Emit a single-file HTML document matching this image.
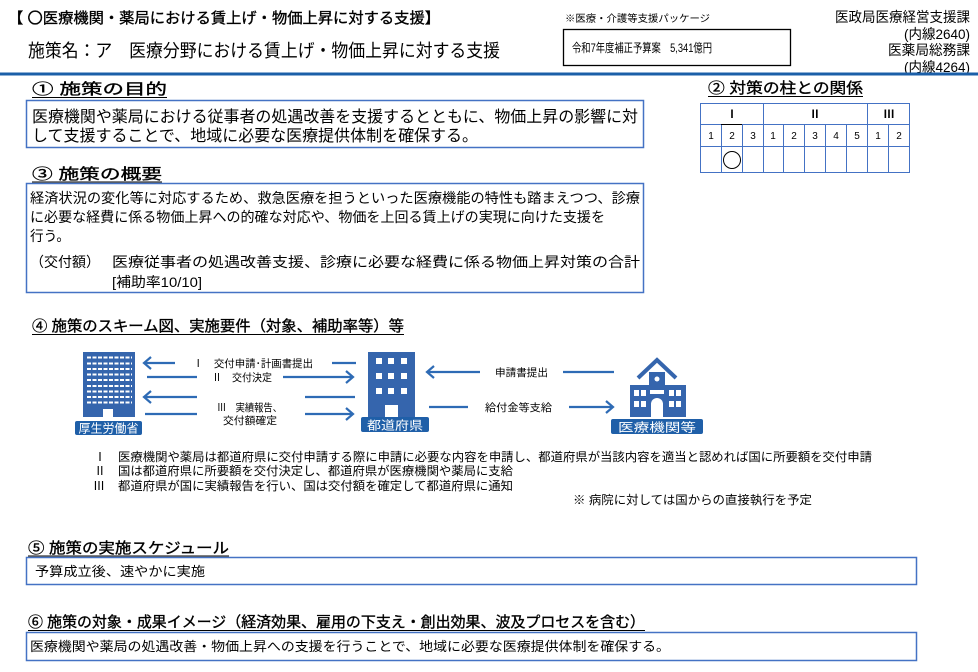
<!DOCTYPE html>
<html><head><meta charset="utf-8"><style>
html,body{margin:0;padding:0;background:#fff;width:978px;height:672px;overflow:hidden}
svg{display:block}
text{font-family:"Liberation Sans","Noto Sans CJK JP",sans-serif;fill:#000}
.h{stroke:#000;stroke-width:0.35}
</style></head><body>
<svg width="978" height="672" viewBox="0 0 978 672" xmlns="http://www.w3.org/2000/svg">
<!-- header -->
<text x="8" y="23" font-size="15" class="h" textLength="432" lengthAdjust="spacingAndGlyphs">【 〇医療機関・薬局における賃上げ・物価上昇に対する支援】</text>
<text x="565" y="22" font-size="10" textLength="145" lengthAdjust="spacingAndGlyphs">※医療・介護等支援パッケージ</text>
<rect x="563.5" y="29.5" width="227" height="36" fill="none" stroke="#000" stroke-width="1.3"/>
<text x="572" y="52" font-size="12" textLength="140" lengthAdjust="spacingAndGlyphs">令和7年度補正予算案　5,341億円</text>
<text x="970" y="22" font-size="14" text-anchor="end" textLength="135" lengthAdjust="spacingAndGlyphs">医政局医療経営支援課</text>
<text x="970" y="39" font-size="14" text-anchor="end" textLength="66" lengthAdjust="spacingAndGlyphs">(内線2640)</text>
<text x="970" y="55" font-size="14" text-anchor="end" textLength="82" lengthAdjust="spacingAndGlyphs">医薬局総務課</text>
<text x="970" y="72" font-size="14" text-anchor="end" textLength="66" lengthAdjust="spacingAndGlyphs">(内線4264)</text>
<text x="28" y="57" font-size="18" textLength="472" lengthAdjust="spacingAndGlyphs">施策名：ア　医療分野における賃上げ・物価上昇に対する支援</text>
<rect x="0" y="72.5" width="978" height="3" fill="#1b5fa8"/>

<!-- ① -->
<text x="32" y="94" font-size="15" class="h" textLength="135" lengthAdjust="spacingAndGlyphs">① 施策の目的</text>
<line x1="32" y1="97.5" x2="167" y2="97.5" stroke="#000" stroke-width="1"/>
<rect x="26.5" y="100.5" width="617" height="47" fill="none" stroke="#4472c4" stroke-width="1.5"/>
<text x="32" y="122" font-size="16" textLength="606" lengthAdjust="spacingAndGlyphs">医療機関や薬局における従事者の処遇改善を支援するとともに、物価上昇の影響に対</text>
<text x="32" y="141" font-size="16" textLength="446" lengthAdjust="spacingAndGlyphs">して支援することで、地域に必要な医療提供体制を確保する。</text>

<!-- ② -->
<text x="708" y="93" font-size="15" class="h" textLength="155" lengthAdjust="spacingAndGlyphs">② 対策の柱との関係</text>
<line x1="708" y1="96.5" x2="863" y2="96.5" stroke="#000" stroke-width="1"/>
<g stroke="#4472c4" stroke-width="1" fill="none">
<rect x="700.5" y="103.5" width="209" height="69"/>
<line x1="700" y1="124.5" x2="910" y2="124.5"/>
<line x1="700" y1="146.5" x2="910" y2="146.5"/>
<line x1="763.5" y1="103" x2="763.5" y2="173"/>
<line x1="867.5" y1="103" x2="867.5" y2="173"/>
<line x1="721.5" y1="124" x2="721.5" y2="173"/>
<line x1="742.5" y1="124" x2="742.5" y2="173"/>
<line x1="783.5" y1="124" x2="783.5" y2="173"/>
<line x1="804.5" y1="124" x2="804.5" y2="173"/>
<line x1="825.5" y1="124" x2="825.5" y2="173"/>
<line x1="846.5" y1="124" x2="846.5" y2="173"/>
<line x1="888.5" y1="124" x2="888.5" y2="173"/>
</g>
<line x1="721" y1="124.5" x2="742" y2="124.5" stroke="#000" stroke-width="1"/>
<g font-size="11" text-anchor="middle">
<text x="732" y="118" font-family="Liberation Serif,serif" font-weight="bold">Ⅰ</text>
<text x="815" y="118" font-family="Liberation Serif,serif" font-weight="bold">Ⅱ</text>
<text x="889" y="118" font-family="Liberation Serif,serif" font-weight="bold">Ⅲ</text>
</g>
<g font-size="10" text-anchor="middle">
<text x="711" y="139">1</text><text x="732" y="139">2</text><text x="753" y="139">3</text>
<text x="773" y="139">1</text><text x="794" y="139">2</text><text x="815" y="139">3</text><text x="836" y="139">4</text><text x="857" y="139">5</text>
<text x="878" y="139">1</text><text x="899" y="139">2</text>
</g>
<circle cx="732" cy="160" r="8.5" fill="none" stroke="#000" stroke-width="1"/>

<!-- ③ -->
<text x="32" y="179" font-size="15" class="h" textLength="130" lengthAdjust="spacingAndGlyphs">③ 施策の概要</text>
<line x1="32" y1="182" x2="162" y2="182" stroke="#000" stroke-width="1"/>
<rect x="26.5" y="183.5" width="617" height="109" fill="none" stroke="#4472c4" stroke-width="1.5"/>
<text x="30" y="203" font-size="14" textLength="610" lengthAdjust="spacingAndGlyphs">経済状況の変化等に対応するため、救急医療を担うといった医療機能の特性も踏まえつつ、診療</text>
<text x="30" y="222" font-size="14" textLength="575" lengthAdjust="spacingAndGlyphs">に必要な経費に係る物価上昇への的確な対応や、物価を上回る賃上げの実現に向けた支援を</text>
<text x="30" y="241" font-size="14" textLength="40" lengthAdjust="spacingAndGlyphs">行う。</text>
<text x="30" y="267" font-size="14" textLength="70" lengthAdjust="spacingAndGlyphs">（交付額）</text>
<text x="112" y="267" font-size="14" textLength="528" lengthAdjust="spacingAndGlyphs">医療従事者の処遇改善支援、診療に必要な経費に係る物価上昇対策の合計</text>
<text x="112" y="287" font-size="14" textLength="90" lengthAdjust="spacingAndGlyphs">[補助率10/10]</text>

<!-- ④ -->
<text x="32" y="331" font-size="15" class="h" textLength="372" lengthAdjust="spacingAndGlyphs">④ 施策のスキーム図、実施要件（対象、補助率等）等</text>
<line x1="32" y1="334.5" x2="404" y2="334.5" stroke="#000" stroke-width="1"/>

<!-- building 1 -->
<rect x="83" y="352" width="52" height="65" fill="#3565ad"/>
<g stroke="#fff" stroke-width="2" stroke-dasharray="4 1.5">
<line x1="87" y1="357.5" x2="132" y2="357.5"/><line x1="87" y1="363.5" x2="132" y2="363.5"/>
<line x1="87" y1="369" x2="132" y2="369"/><line x1="87" y1="374.5" x2="132" y2="374.5"/>
<line x1="87" y1="380" x2="132" y2="380"/><line x1="87" y1="386" x2="132" y2="386"/>
<line x1="87" y1="391.5" x2="132" y2="391.5"/><line x1="87" y1="397" x2="132" y2="397"/>
<line x1="87" y1="402.5" x2="132" y2="402.5"/>
</g>
<rect x="103" y="409" width="10" height="8" fill="#fff"/>
<rect x="75" y="421" width="67" height="14" rx="2" fill="#1f5fa8"/>
<text x="108.5" y="432.5" font-size="12" text-anchor="middle" style="fill:#fff" textLength="60" lengthAdjust="spacingAndGlyphs">厚生労働省</text>

<!-- building 2 -->
<rect x="368" y="352" width="47" height="65" fill="#3565ad"/>
<g fill="#fff">
<rect x="376" y="358" width="6" height="6"/><rect x="388" y="358" width="6" height="6"/><rect x="401" y="358" width="6" height="6"/>
<rect x="376" y="373" width="6" height="6"/><rect x="388" y="373" width="6" height="6"/><rect x="401" y="373" width="6" height="6"/>
<rect x="376" y="388" width="6" height="6"/><rect x="388" y="388" width="6" height="6"/><rect x="401" y="388" width="6" height="6"/>
<rect x="385" y="405" width="13" height="12"/>
</g>
<rect x="361" y="417" width="68" height="15" rx="2" fill="#1f5fa8"/>
<text x="395" y="429.5" font-size="12" text-anchor="middle" style="fill:#fff" textLength="56" lengthAdjust="spacingAndGlyphs">都道府県</text>

<!-- hospital -->
<polyline points="638,378 657,360 676,378" fill="none" stroke="#3565ad" stroke-width="4"/>
<rect x="649" y="372" width="16" height="14" fill="#3565ad"/>
<rect x="630" y="385" width="56" height="32" fill="#3565ad"/>
<g fill="#fff">
<circle cx="657" cy="379" r="2.5"/>
<rect x="634" y="390" width="5" height="6"/><rect x="641" y="390" width="5" height="6"/>
<rect x="669" y="390" width="5" height="6"/><rect x="676" y="390" width="5" height="6"/>
<rect x="634" y="401" width="5" height="6"/><rect x="641" y="401" width="5" height="6"/>
<rect x="669" y="401" width="5" height="6"/><rect x="676" y="401" width="5" height="6"/>
<rect x="650" y="390" width="14" height="4"/>
<path d="M651,417 V404 a6,6 0 0 1 12,0 V417 Z"/>
</g>
<rect x="611" y="419" width="92" height="15" rx="2" fill="#1f5fa8"/>
<text x="657" y="431.5" font-size="12" text-anchor="middle" style="fill:#fff" textLength="78" lengthAdjust="spacingAndGlyphs">医療機関等</text>

<!-- arrows -->
<g stroke="#2e6bb5" stroke-width="2.2" fill="none">
<line x1="144" y1="363" x2="175" y2="363"/><polyline points="151,357 144,363 151,369"/>
<line x1="332" y1="363" x2="356" y2="363"/>
<line x1="147" y1="377" x2="197" y2="377"/>
<line x1="283" y1="377" x2="353" y2="377"/><polyline points="346,371 353,377 346,383"/>
<line x1="144" y1="397" x2="197" y2="397"/><polyline points="151,391 144,397 151,403"/>
<line x1="305" y1="397" x2="355" y2="397"/>
<line x1="145" y1="414" x2="197" y2="414"/>
<line x1="305" y1="414" x2="353" y2="414"/><polyline points="346,408 353,414 346,420"/>
<line x1="427" y1="372" x2="480" y2="372"/><polyline points="434,366 427,372 434,378"/>
<line x1="563" y1="372" x2="614" y2="372"/>
<line x1="429" y1="407" x2="468" y2="407"/>
<line x1="569" y1="407" x2="613" y2="407"/><polyline points="606,401 613,407 606,413"/>
</g>
<g font-size="10.5">
<text x="193" y="367" textLength="120" lengthAdjust="spacingAndGlyphs">Ⅰ　交付申請･計画書提出</text>
<text x="212" y="381" textLength="60" lengthAdjust="spacingAndGlyphs">Ⅱ　交付決定</text>
<text x="217" y="411" textLength="65" lengthAdjust="spacingAndGlyphs">Ⅲ　実績報告、</text>
<text x="223" y="424" textLength="54" lengthAdjust="spacingAndGlyphs">交付額確定</text>
<text x="495" y="376" textLength="53" lengthAdjust="spacingAndGlyphs">申請書提出</text>
<text x="485" y="411" textLength="67" lengthAdjust="spacingAndGlyphs">給付金等支給</text>
</g>

<!-- notes -->
<g font-size="12">
<text x="94" y="461" font-family="Liberation Serif,serif">Ⅰ</text>
<text x="94" y="475" font-family="Liberation Serif,serif">Ⅱ</text>
<text x="93" y="490" font-family="Liberation Serif,serif">Ⅲ</text>
<text x="118" y="461" textLength="754" lengthAdjust="spacingAndGlyphs">医療機関や薬局は都道府県に交付申請する際に申請に必要な内容を申請し、都道府県が当該内容を適当と認めれば国に所要額を交付申請</text>
<text x="118" y="475" textLength="395" lengthAdjust="spacingAndGlyphs">国は都道府県に所要額を交付決定し、都道府県が医療機関や薬局に支給</text>
<text x="118" y="490" textLength="395" lengthAdjust="spacingAndGlyphs">都道府県が国に実績報告を行い、国は交付額を確定して都道府県に通知</text>
<text x="573" y="504" textLength="239" lengthAdjust="spacingAndGlyphs">※ 病院に対しては国からの直接執行を予定</text>
</g>

<!-- ⑤ -->
<text x="28" y="553" font-size="15" class="h" textLength="201" lengthAdjust="spacingAndGlyphs">⑤ 施策の実施スケジュール</text>
<line x1="28" y1="556" x2="229" y2="556" stroke="#000" stroke-width="1"/>
<rect x="26.5" y="557.5" width="890" height="27" fill="none" stroke="#4472c4" stroke-width="1.5"/>
<text x="35" y="576" font-size="13" textLength="170" lengthAdjust="spacingAndGlyphs">予算成立後、速やかに実施</text>

<!-- ⑥ -->
<text x="28" y="627" font-size="15" class="h" textLength="617" lengthAdjust="spacingAndGlyphs">⑥ 施策の対象・成果イメージ（経済効果、雇用の下支え・創出効果、波及プロセスを含む）</text>
<line x1="28" y1="630.5" x2="645" y2="630.5" stroke="#000" stroke-width="1"/>
<rect x="26.5" y="632.5" width="890" height="28" fill="none" stroke="#4472c4" stroke-width="1.5"/>
<text x="30" y="651" font-size="13" textLength="640" lengthAdjust="spacingAndGlyphs">医療機関や薬局の処遇改善・物価上昇への支援を行うことで、地域に必要な医療提供体制を確保する。</text>
</svg>
</body></html>
